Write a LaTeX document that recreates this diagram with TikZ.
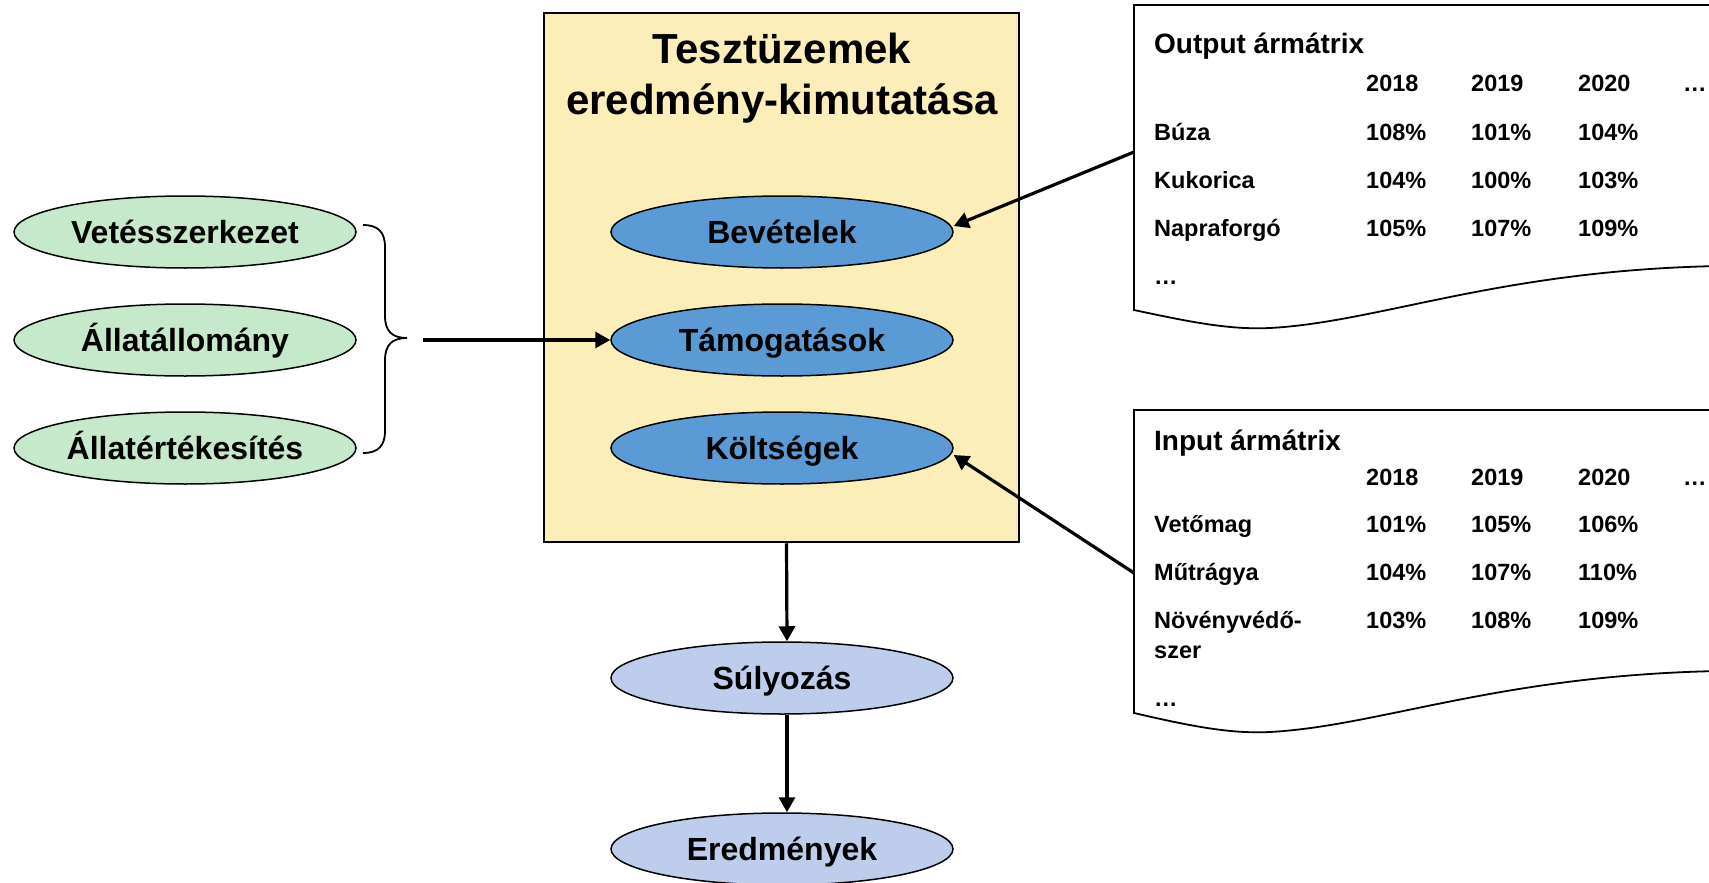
\documentclass[tikz,border=0pt]{standalone}
\usepackage{fontspec}
\setmainfont{Liberation Sans}
\usetikzlibrary{shapes.geometric, arrows.meta}
\definecolor{boxyellow}{RGB}{251,238,185}
\definecolor{midblue}{RGB}{91,155,213}
\definecolor{paleblue}{RGB}{189,205,235}
\definecolor{palegreen}{RGB}{198,233,203}
\begin{document}
\begin{tikzpicture}[x=1pt,y=-1pt,
  ell/.style={ellipse, draw=black, line width=1.5pt, minimum width=342pt, minimum height=72pt, inner sep=0pt,
    font=\bfseries\fontsize{32}{37}\selectfont, text height=23pt, text depth=0pt},
  greenell/.style={ell, fill=palegreen},
  blueell/.style={ell, fill=midblue},
  paleell/.style={ell, fill=paleblue},
  arr/.style={line width=3.2pt, -{Triangle[length=15pt,width=16pt]}},
  tab/.style={anchor=base west, inner sep=0pt, font=\bfseries\fontsize{23.5}{28}\selectfont},
  doctitle/.style={anchor=base west, inner sep=0pt, font=\bfseries\fontsize{28}{32}\selectfont},
  ttl/.style={anchor=base, inner sep=0pt, font=\bfseries\fontsize{42}{50}\selectfont},
  docbox/.style={draw=black, line width=1.8pt, fill=white}
]
\useasboundingbox (0,0) rectangle (1709,883);
\clip (0,0) rectangle (1709,883);

% main box
\node[draw=black, line width=2.5pt, fill=boxyellow, minimum width=475pt, minimum height=529pt, inner sep=0pt] (box) at (781.5,277.5) {};
\node[ttl] (title1) at (782,64) {Tesztüzemek};
\node[ttl] (title2) at (782,114) {eredmény-kimutatása};

\node[blueell] (bev) at (782,232) {Bevételek};
\node[blueell] (tam) at (782,340) {Támogatások};
\node[blueell] (kol) at (782,448) {Költségek};

\node[paleell] (sul) at (782,678) {Súlyozás};
\node[paleell] (ered) at (782,849) {Eredmények};

% left inputs
\node[greenell] (vet) at (185,232) {Vetésszerkezet};
\node[greenell] (all) at (185,340) {Állatállomány};
\node[greenell] (ert) at (185,448) {Állatértékesítés};

\draw[line width=1.8pt] (363,225) .. controls (378,225) and (385,232) .. (385,247) -- (385,316)
  .. controls (385,331) and (392,338) .. (407,338)
  .. controls (392,338) and (385,345) .. (385,360) -- (385,431)
  .. controls (385,446) and (378,453) .. (363,453);
\coordinate (hstart) at (423,340);
\draw[arr] (hstart) -- (tam.west);

% output document
\draw[docbox] (1134,310) -- (1134,5) -- (1720,5) -- (1720,266)
  .. controls (1500,270) and (1380,322) .. (1270,328)
  .. controls (1230,330) and (1190,322) .. (1134,310) -- cycle;
\node[doctitle] (ot) at (1154,54) {Output ármátrix};
\node[tab] (oh1) at (1366,92) {2018};
\node[tab] (oh2) at (1471,92) {2019};
\node[tab] (oh3) at (1578,92) {2020};
\node[tab] (oh4) at (1683,92) {…};
\node[tab] (or1) at (1154,140) {Búza};
\node[tab] (or1a) at (1366,140) {108\%};
\node[tab] (or1b) at (1471,140) {101\%};
\node[tab] (or1c) at (1578,140) {104\%};
\node[tab] (or2) at (1154,188) {Kukorica};
\node[tab] (or2a) at (1366,188) {104\%};
\node[tab] (or2b) at (1471,188) {100\%};
\node[tab] (or2c) at (1578,188) {103\%};
\node[tab] (or3) at (1154,236) {Napraforgó};
\node[tab] (or3a) at (1366,236) {105\%};
\node[tab] (or3b) at (1471,236) {107\%};
\node[tab] (or3c) at (1578,236) {109\%};
\node[tab] (or4) at (1154,284) {…};

% input document
\draw[docbox] (1134,713) -- (1134,410) -- (1720,410) -- (1720,671)
  .. controls (1500,675) and (1380,726) .. (1270,732)
  .. controls (1230,734) and (1190,726) .. (1134,713) -- cycle;
\node[doctitle] (it) at (1154,450) {Input ármátrix};
\node[tab] (ih1) at (1366,485) {2018};
\node[tab] (ih2) at (1471,485) {2019};
\node[tab] (ih3) at (1578,485) {2020};
\node[tab] (ih4) at (1683,485) {…};
\node[tab] (ir1) at (1154,532) {Vetőmag};
\node[tab] (ir1a) at (1366,532) {101\%};
\node[tab] (ir1b) at (1471,532) {105\%};
\node[tab] (ir1c) at (1578,532) {106\%};
\node[tab] (ir2) at (1154,580) {Műtrágya};
\node[tab] (ir2a) at (1366,580) {104\%};
\node[tab] (ir2b) at (1471,580) {107\%};
\node[tab] (ir2c) at (1578,580) {110\%};
\node[tab] (ir3) at (1154,628) {Növényvédő-};
\node[tab] (ir3s) at (1154,658) {szer};
\node[tab] (ir3a) at (1366,628) {103\%};
\node[tab] (ir3b) at (1471,628) {108\%};
\node[tab] (ir3c) at (1578,628) {109\%};
\node[tab] (ir4) at (1154,706) {…};

% connectors
\coordinate (outsrc) at (1134,152);
\coordinate (insrc) at (1134,573);
\draw[arr] (outsrc) -- ([yshift=6pt]bev.east);
\draw[arr] (insrc) -- ([yshift=-7pt]kol.east);
\draw[arr] ([xshift=5pt]box.south) -- ([xshift=5pt]sul.north);
\draw[arr] ([xshift=5pt]sul.south) -- ([xshift=5pt]ered.north);
\end{tikzpicture}
\end{document}
